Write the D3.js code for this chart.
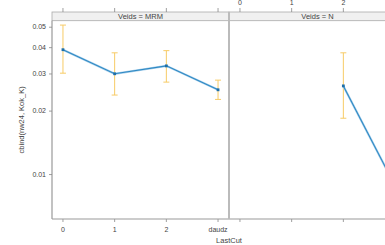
<!DOCTYPE html>
<html>
<head>
<meta charset="utf-8">
<script src="https://cdn.jsdelivr.net/npm/d3@7"></script>
<style>
  body { margin: 0; background: #fff; }
  text { font-family: "Liberation Sans", Arial, sans-serif; fill: #444; }
</style>
</head>
<body>
<div id="chart"></div>
<script>
// categories and panels
var categories = ["0", "1", "2", "daudz"];
var panels = ["MRM", "N"];
var yTicks = [0.01, 0.02, 0.03, 0.04, 0.05];

// fitted values and intervals, per panel (null = no data)
var mrmFit = [0.0389, 0.0299, 0.0326, 0.0251];
var mrmLo  = [0.0301, 0.0237, 0.0273, 0.0226];
var mrmHi  = [0.0509, 0.0376, 0.0385, 0.0279];
var nFit   = [null, null, 0.0262, 0.0088];
var nLo    = [null, null, 0.0184, 0.0055];
var nHi    = [null, null, 0.0376, 0.0140];

var width = 385, height = 245;
var margin = { left: 52, top: 20.7, bottom: 26 },
    stripH = 8.7,
    panelW = 177,
    panelH = height - margin.bottom - margin.top;

var series = [
  { panel: panels[0], fit: mrmFit, lo: mrmLo, hi: mrmHi },
  { panel: panels[1], fit: nFit, lo: nLo, hi: nHi }
];

var svg = d3.select('#chart').append('svg')
  .attr('width', width)
  .attr('height', height);

var x = d3.scalePoint()
  .domain(categories)
  .range([0, panelW])
  .padding(0.212);

var y = d3.scaleLog()
  .domain([0.00612, 0.0534])
  .range([margin.top + panelH, margin.top]);

var lineColor = '#2f89c3', errColor = '#f7cb66', boxColor = '#999';

series.forEach(function(s, i) {
  var left = margin.left + i * panelW;
  var g = svg.append('g')
    .attr('transform', 'translate(' + left + ',0)');

  // strip
  g.append('rect')
    .attr('x', 0).attr('y', margin.top - stripH)
    .attr('width', panelW).attr('height', stripH)
    .attr('fill', '#f0f0f0').attr('stroke', '#aaa').attr('stroke-width', 0.8);
  g.append('text')
    .attr('x', panelW / 2).attr('y', margin.top - 2)
    .attr('text-anchor', 'middle')
    .style('font-size', '7.5px')
    .text('Veids = ' + s.panel);

  // ticks: bottom labels on first panel, top labels on second
  var ax = g.append('g');
  categories.forEach(function(c) {
    ax.append('line')
      .attr('x1', x(c)).attr('x2', x(c))
      .attr('y1', margin.top + panelH).attr('y2', margin.top + panelH + 3)
      .attr('stroke', '#888').attr('stroke-width', 0.8);
    ax.append('line')
      .attr('x1', x(c)).attr('x2', x(c))
      .attr('y1', margin.top - stripH).attr('y2', margin.top - stripH - 4)
      .attr('stroke', '#888').attr('stroke-width', 0.8);
    if (i === 0) {
      ax.append('text')
        .attr('x', x(c)).attr('y', margin.top + panelH + 13)
        .attr('text-anchor', 'middle')
        .style('font-size', '7px')
        .text(c);
    }
    if (i === 1 && left + x(c) + 8 < width) {
      ax.append('text')
        .attr('x', x(c)).attr('y', 5)
        .attr('text-anchor', 'middle')
        .style('font-size', '7px')
        .text(c);
    }
  });

  var pts = categories.map(function(c, k) {
    return { c: c, fit: s.fit[k], lo: s.lo[k], hi: s.hi[k] };
  }).filter(function(d) { return d.fit != null; });

  // error bars
  var eb = g.selectAll('.err').data(pts).enter().append('g')
    .attr('stroke', errColor).attr('stroke-width', 1);
  eb.append('line')
    .attr('x1', function(d) { return x(d.c); }).attr('x2', function(d) { return x(d.c); })
    .attr('y1', function(d) { return y(d.lo); }).attr('y2', function(d) { return y(d.hi); });
  eb.append('line')
    .attr('x1', function(d) { return x(d.c) - 3; }).attr('x2', function(d) { return x(d.c) + 3; })
    .attr('y1', function(d) { return y(d.lo); }).attr('y2', function(d) { return y(d.lo); });
  eb.append('line')
    .attr('x1', function(d) { return x(d.c) - 3; }).attr('x2', function(d) { return x(d.c) + 3; })
    .attr('y1', function(d) { return y(d.hi); }).attr('y2', function(d) { return y(d.hi); });

  // line with light halo
  var line = d3.line()
    .x(function(d) { return x(d.c); })
    .y(function(d) { return y(d.fit); });
  g.append('path').datum(pts)
    .attr('d', line).attr('fill', 'none')
    .attr('stroke', '#a9d0ec').attr('stroke-width', 2.2);
  g.append('path').datum(pts)
    .attr('d', line).attr('fill', 'none')
    .attr('stroke', lineColor).attr('stroke-width', 1.1);
  g.selectAll('.pt').data(pts).enter().append('rect')
    .attr('x', function(d) { return x(d.c) - 1.4; })
    .attr('y', function(d) { return y(d.fit) - 1.4; })
    .attr('width', 2.8).attr('height', 2.8)
    .attr('fill', '#1f6fa8');
});

// panel borders: left, bottom, divider
svg.append('line')
  .attr('x1', margin.left).attr('x2', margin.left)
  .attr('y1', margin.top).attr('y2', margin.top + panelH)
  .attr('stroke', boxColor).attr('stroke-width', 1.2);
svg.append('line')
  .attr('x1', margin.left).attr('x2', width)
  .attr('y1', margin.top + panelH).attr('y2', margin.top + panelH)
  .attr('stroke', boxColor).attr('stroke-width', 1.2);
svg.append('line')
  .attr('x1', margin.left + panelW).attr('x2', margin.left + panelW)
  .attr('y1', margin.top - stripH).attr('y2', margin.top + panelH)
  .attr('stroke', '#bbb').attr('stroke-width', 2);

// y axis
var yAxis = d3.axisLeft(y)
  .tickValues(yTicks)
  .tickSize(3)
  .tickFormat(d3.format('.2f'));
var ya = svg.append('g')
  .attr('transform', 'translate(' + margin.left + ',0)')
  .call(yAxis);
ya.select('.domain').remove();
ya.selectAll('line').attr('stroke', '#888').attr('stroke-width', 0.8);
ya.selectAll('text')
  .attr('fill', '#444')
  .style('font-size', '7px')
  .style('font-family', '"Liberation Sans", Arial, sans-serif');

// axis titles
svg.append('text')
  .attr('transform', 'translate(24,' + (margin.top + panelH / 2) + ') rotate(-90)')
  .attr('text-anchor', 'middle')
  .style('font-size', '7.5px')
  .text('cbind(nw24, Kok_K)');
svg.append('text')
  .attr('x', margin.left + panelW).attr('y', 243)
  .attr('text-anchor', 'middle')
  .style('font-size', '7.5px')
  .text('LastCut');
</script>
</body>
</html>
